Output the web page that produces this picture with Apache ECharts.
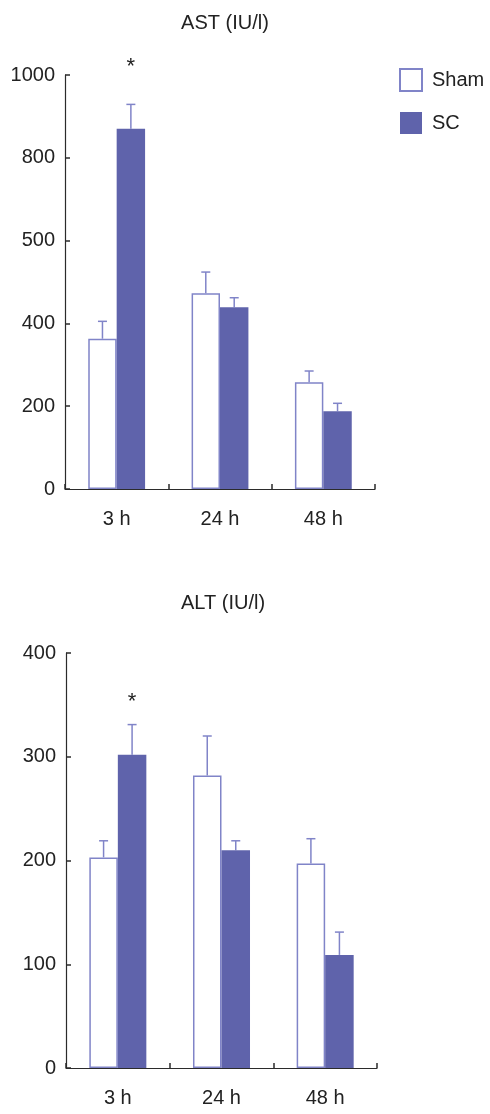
<!DOCTYPE html>
<html>
<head>
<meta charset="utf-8">
<script src="https://cdn.jsdelivr.net/npm/echarts@6/dist/echarts.min.js"></script>
<style>
html,body{margin:0;padding:0;background:#fff;}
#chart{width:490px;height:1114px;}
</style>
</head>
<body>
<div id="chart"></div>
<script>
// ---- data ----
const categories = ['3 h', '24 h', '48 h'];
const seriesNames = ['Sham', 'SC'];

// AST (IU/l)
const astSham = [363, 473, 258];
const astShamUpper = [405, 524, 285];
const astSC = [870, 439, 188];
const astSCUpper = [929, 462, 207];
const astTickLabels = ['0', '200', '400', '500', '800', '1000'];
const astSig = [[0, 1032]];   // asterisk over SC bar at 3 h

// ALT (IU/l)
const altSham = [203, 282, 197];
const altShamUpper = [219, 320, 221];
const altSC = [302, 210, 109];
const altSCUpper = [331, 219, 131];
const altTickLabels = ['0', '100', '200', '300', '400'];
const altSig = [[0, 358]];

// ---- styling ----
const FILL = '#5f63ab';
const EDGE = '#8084c8';
const AXIS = '#2b2b2b';
const TXT = '#222';
const FONT = 'Liberation Sans, Arial, sans-serif';
const BAR_OFF = 0.1375; // half of bar width as fraction of band (barCategoryGap 45%)

function errItem(sign) {
  return function (params, api) {
    const i = api.value(0);
    const b = api.coord([i, api.value(1)]);
    const t = api.coord([i, api.value(2)]);
    const band = api.size([1, 0])[0];
    const x = b[0] + sign * band * BAR_OFF;
    const cap = 4.5;
    const st = { stroke: EDGE, lineWidth: 1.5 };
    return {
      type: 'group',
      children: [
        { type: 'line', shape: { x1: x, y1: b[1], x2: x, y2: t[1] }, style: st },
        { type: 'line', shape: { x1: x - cap, y1: t[1], x2: x + cap, y2: t[1] }, style: st }
      ]
    };
  };
}
function sigItem(params, api) {
  const i = api.value(0);
  const p = api.coord([i, api.value(1)]);
  const band = api.size([1, 0])[0];
  return {
    type: 'text',
    style: { text: '*', x: p[0] + band * BAR_OFF, y: p[1] + 5, align: 'center', verticalAlign: 'middle',
      fill: TXT, font: '22px ' + FONT }
  };
}

function makeAxes(gi, max, interval, labels) {
  return {
    x: {
      type: 'category', gridIndex: gi, data: categories,
      axisLine: { show: true, lineStyle: { color: AXIS, width: 1.2 } },
      axisTick: { show: true, inside: true, length: 5, alignWithLabel: false,
        lineStyle: { color: AXIS, width: 1.5 } },
      axisLabel: { color: TXT, fontSize: 20, fontFamily: FONT, margin: 20 },
      splitLine: { show: false }
    },
    y: {
      type: 'value', gridIndex: gi, min: 0, max: max, interval: interval,
      axisLine: { show: true, lineStyle: { color: AXIS, width: 1.2 } },
      axisTick: { show: true, inside: true, length: 5, lineStyle: { color: AXIS, width: 1.5 } },
      axisLabel: { color: TXT, fontSize: 20, fontFamily: FONT, margin: 10,
        formatter: v => labels[Math.round(v / interval)] },
      splitLine: { show: false }
    }
  };
}

function makeSeries(gi, sham, shamUp, sc, scUp, sig) {
  const common = { type: 'bar', xAxisIndex: gi, yAxisIndex: gi, barGap: '0%', barCategoryGap: '45%' };
  return [
    Object.assign({ name: 'Sham', data: sham,
      itemStyle: { color: '#ffffff', borderColor: EDGE, borderWidth: 1.5 } }, common),
    Object.assign({ name: 'SC', data: sc, itemStyle: { color: FILL } }, common),
    { type: 'custom', xAxisIndex: gi, yAxisIndex: gi, renderItem: errItem(-1), clip: false,
      data: sham.map((v, i) => [i, v, shamUp[i]]), z: 1, silent: true },
    { type: 'custom', xAxisIndex: gi, yAxisIndex: gi, renderItem: errItem(1), clip: false,
      data: sc.map((v, i) => [i, v, scUp[i]]), z: 1, silent: true },
    { type: 'custom', xAxisIndex: gi, yAxisIndex: gi, renderItem: sigItem, clip: false,
      data: sig, silent: true }
  ];
}

const a1 = makeAxes(0, 1000, 200, astTickLabels);
const a2 = makeAxes(1, 400, 100, altTickLabels);

const option = {
  animation: false,
  backgroundColor: '#ffffff',
  textStyle: { fontFamily: FONT },
  title: [
    { text: 'AST (IU/l)', left: 220, top: 8, textAlign: 'center',
      textStyle: { color: TXT, fontSize: 20, fontWeight: 'normal', fontFamily: FONT } },
    { text: 'ALT (IU/l)', left: 218, top: 588, textAlign: 'center',
      textStyle: { color: TXT, fontSize: 20, fontWeight: 'normal', fontFamily: FONT } }
  ],
  legend: {
    data: seriesNames, orient: 'vertical', left: 394, top: 63,
    itemWidth: 22, itemHeight: 22, itemGap: 20, icon: 'rect',
    textStyle: { color: TXT, fontSize: 20, fontFamily: FONT, padding: [0, 0, 0, 5] }
  },
  grid: [
    { left: 65, top: 75, width: 310, height: 414, containLabel: false },
    { left: 66, top: 653, width: 311, height: 415, containLabel: false }
  ],
  xAxis: [a1.x, a2.x],
  yAxis: [a1.y, a2.y],
  series: [].concat(
    makeSeries(0, astSham, astShamUpper, astSC, astSCUpper, astSig),
    makeSeries(1, altSham, altShamUpper, altSC, altSCUpper, altSig)
  )
};

const chart = echarts.init(document.getElementById('chart'), null, { renderer: 'canvas' });
chart.setOption(option);
</script>
</body>
</html>
